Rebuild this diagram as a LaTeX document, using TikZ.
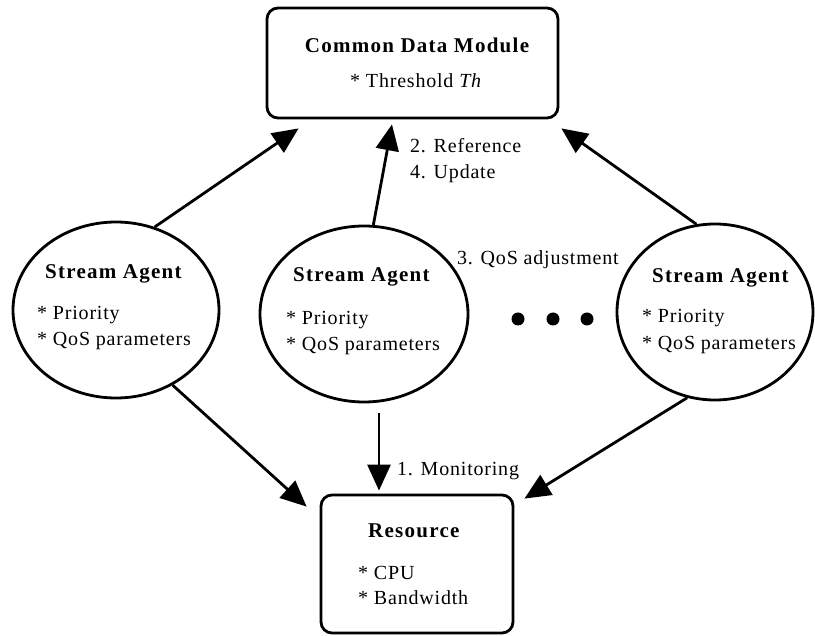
\documentclass[tikz,border=0pt]{standalone}
\usepackage{fontspec}
\usetikzlibrary{shapes.geometric,arrows.meta,calc}
\newfontfamily\bodyfont{Liberation Serif}[LetterSpace=4]
\newfontfamily\headfont{Liberation Serif}[LetterSpace=6]
\begin{document}
\begin{tikzpicture}[x=1pt,y=-1pt,
  every node/.style={inner sep=0pt},
  module/.style={draw,line width=2.8pt,rounded corners=11pt,minimum width=291pt,minimum height=110pt},
  resbox/.style={draw,line width=2.8pt,rounded corners=11pt,minimum width=192pt,minimum height=138pt},
  agent/.style={draw,ellipse,line width=2.8pt,minimum width=206pt,minimum height=176pt},
  head/.style={font=\headfont\bfseries\fontsize{21}{24}\selectfont},
  body/.style={font=\bodyfont\fontsize{20}{23}\selectfont,anchor=mid west},
  flow/.style={line width=2.8pt,-{Triangle[length=26pt,width=23pt]}},
  dot/.style={circle,fill,minimum size=13pt}
]
\useasboundingbox (0,0) rectangle (815,636);

% boxes and agents
\node[module] (cdm) at (412.5,63) {};
\node[resbox] (res) at (417,564) {};
\node[agent] (sa1) at (116,310) {};
\node[agent,minimum width=208pt] (sa2) at (364,314) {};
\node[agent,minimum width=196pt] (sa3) at (715,312) {};

% texts of the common data module
\node[head] (cdmT) at (417,45) {Common Data Module};
\node[body] (cdmA) at (350,85) {* Threshold \textit{Th}};

% texts of the agents
\node[head,anchor=mid west] (sa1T) at (45,276) {Stream Agent};
\node[body] (sa1A) at (37,317) {* Priority};
\node[body] (sa1B) at (37,343) {* QoS parameters};

\node[head,anchor=mid west] (sa2T) at (293,279) {Stream Agent};
\node[body] (sa2A) at (286,322) {* Priority};
\node[body] (sa2B) at (286,348) {* QoS parameters};

\node[head,anchor=mid west] (sa3T) at (652,280) {Stream Agent};
\node[body] (sa3A) at (642,320) {* Priority};
\node[body] (sa3B) at (642,347) {* QoS parameters};

% texts of the resource
\node[head,anchor=mid west] (resT) at (368,535) {Resource};
\node[body] (resA) at (358,577) {* CPU};
\node[body] (resB) at (358,602) {* Bandwidth};

% step labels
\node[body] (lref) at (410,150) {2. Reference};
\node[body] (lupd) at (410,176) {4. Update};
\node[body] (ladj) at (457,262) {3. QoS adjustment};
\node[body] (lmon) at (397,473) {1. Monitoring};

% ellipsis dots
\node[dot] (d1) at (518,319) {};
\node[dot] (d2) at (553,319) {};
\node[dot] (d3) at (587,319) {};

% arrow tips (y grows downwards)
\coordinate (t1) at ($(cdm.south west)+(33,9)$);
\coordinate (t2) at ($(cdm.south)+(-20.5,5)$);
\coordinate (t3) at ($(cdm.south east)+(2,9)$);
\coordinate (t4) at ($(res.north west)+(-13,13)$);
\coordinate (t5) at ($(res.north)+(-38,-3)$);
\coordinate (t6) at ($(res.north east)+(10,5)$);

\draw[flow] (sa1.65) -- (t1);
\draw[flow] (sa2.84) -- (t2);
\draw[flow] (sa3.102) -- (t3);
\draw[flow] (sa1.-53) -- (t4);
\draw[flow] ($(sa2.south)+(15,10)$) -- (t5);
\draw[flow] (sa3.-108) -- (t6);
\end{tikzpicture}
\end{document}
